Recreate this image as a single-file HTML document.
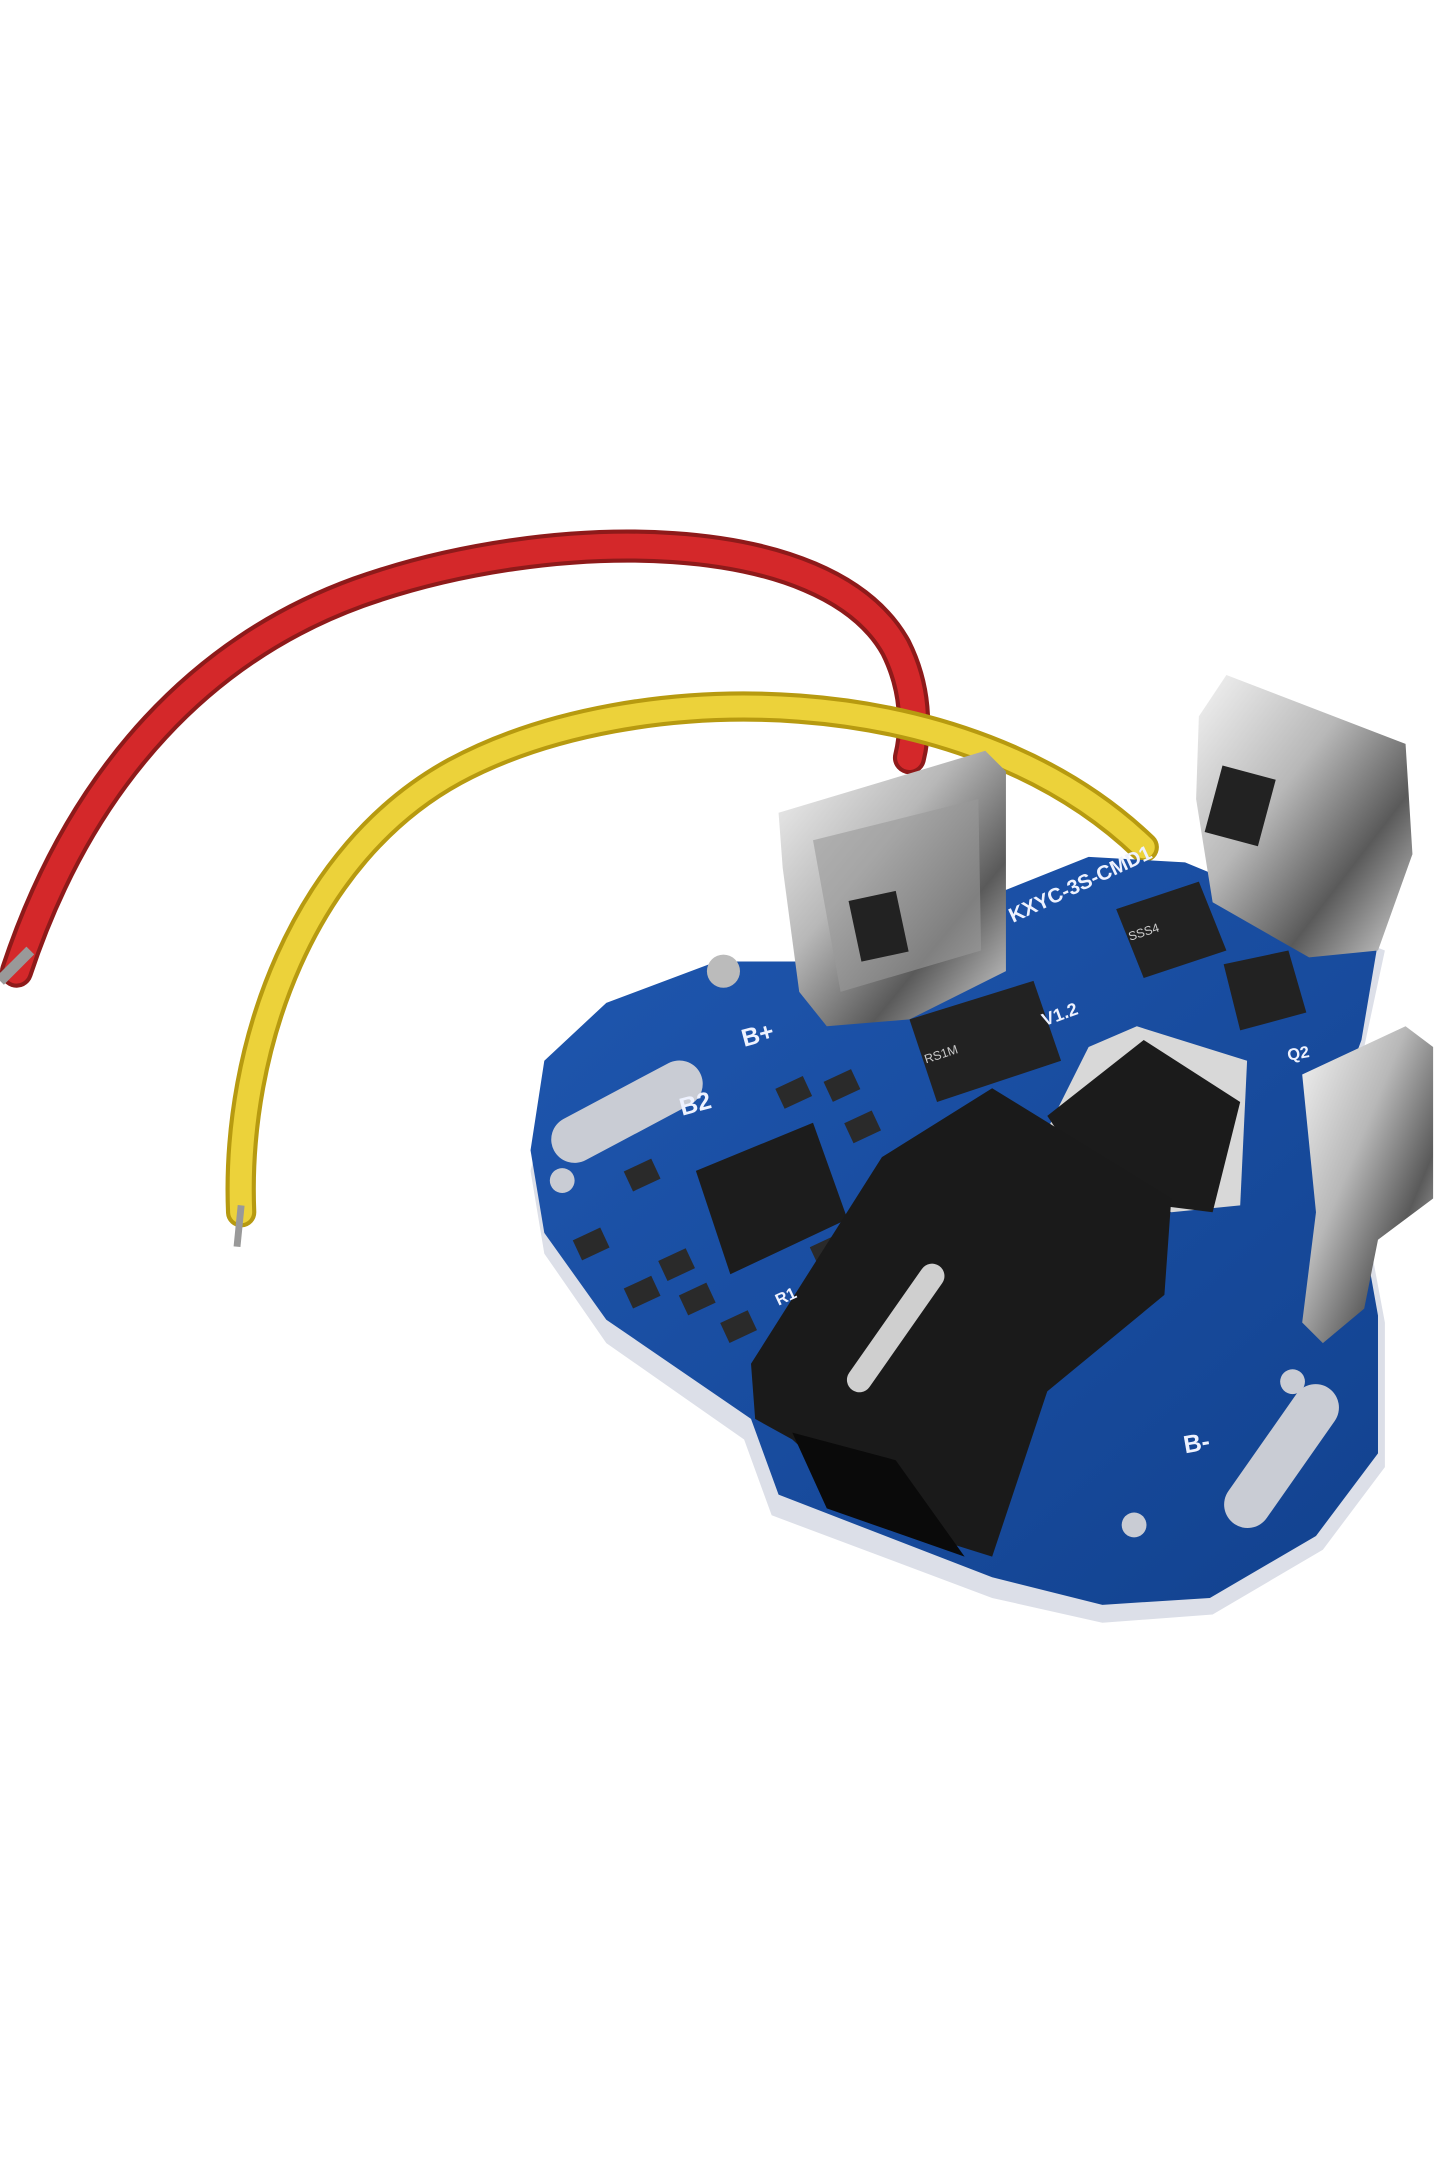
<!DOCTYPE html>
<html><head><meta charset="utf-8"><style>
html,body{margin:0;padding:0;background:#fff;}
svg{display:block;}
text{font-family:"Liberation Sans",sans-serif;}
</style></head><body>
<svg width="1440" height="2160" viewBox="0 0 1045 1568" preserveAspectRatio="none" xmlns="http://www.w3.org/2000/svg">
<defs>
<linearGradient id="metal" x1="0" y1="0" x2="1" y2="1">
<stop offset="0" stop-color="#f4f4f4"/><stop offset="0.4" stop-color="#b8b8b8"/><stop offset="0.7" stop-color="#5a5a5a"/><stop offset="1" stop-color="#d8d8d8"/>
</linearGradient>
<linearGradient id="board" x1="0" y1="0" x2="1" y2="1">
<stop offset="0" stop-color="#1f57b0"/><stop offset="1" stop-color="#12428f"/>
</linearGradient>
</defs>
<rect width="1045" height="1568" fill="#fff"/>
<!-- red wire -->
<path d="M12,705 C60,560 150,470 260,430 C400,380 600,380 650,470 C665,500 665,530 660,550" fill="none" stroke="#8e1a1a" stroke-width="24" stroke-linecap="round"/>
<path d="M12,705 C60,560 150,470 260,430 C400,380 600,380 650,470 C665,500 665,530 660,550" fill="none" stroke="#d4282a" stroke-width="18" stroke-linecap="round"/>
<path d="M0,712 L22,690" stroke="#999" stroke-width="8"/>
<!-- yellow wire -->
<path d="M175,880 C170,760 220,620 330,560 C460,490 700,490 830,615" fill="none" stroke="#b79a10" stroke-width="22" stroke-linecap="round"/>
<path d="M175,880 C170,760 220,620 330,560 C460,490 700,490 830,615" fill="none" stroke="#ecd23a" stroke-width="16" stroke-linecap="round"/>
<path d="M175,875 L172,905" stroke="#999" stroke-width="5"/>
<!-- board edge/shadow -->
<path d="M400,790 L440,740 L520,705 L600,705 L700,665 L790,628 L860,632 L1005,690 L990,760 L975,800 L1005,960 L1005,1065 L960,1125 L880,1172 L800,1178 L720,1160 L560,1100 L540,1045 L440,975 L395,910 L385,850 Z" fill="#dcdfe8"/>
<path d="M395,770 L440,728 L520,698 L600,698 L700,658 L790,622 L860,626 L1000,684 L988,755 L972,798 L1000,955 L1000,1055 L955,1115 L878,1160 L800,1165 L720,1145 L565,1085 L545,1030 L440,958 L395,895 L385,835 Z" fill="url(#board)"/>
<!-- slots -->
<rect x="395" y="790" width="120" height="34" rx="17" fill="#c9ccd4" transform="rotate(-28 455 807)"/>
<rect x="870" y="1040" width="120" height="34" rx="17" fill="#c9ccd4" transform="rotate(-55 930 1057)"/>
<circle cx="408" cy="857" r="9" fill="#c9ccd4"/>
<circle cx="525" cy="705" r="12" fill="#bbb"/>
<circle cx="823" cy="1107" r="9" fill="#c9ccd4"/>
<circle cx="938" cy="1003" r="9" fill="#c9ccd4"/>
<!-- small components -->
<g fill="#2a2a2a">
<rect x="565" y="785" width="22" height="16" transform="rotate(-25 576 793)"/>
<rect x="600" y="780" width="22" height="16" transform="rotate(-25 611 788)"/>
<rect x="615" y="810" width="22" height="16" transform="rotate(-25 626 818)"/>
<rect x="455" y="845" width="22" height="16" transform="rotate(-25 466 853)"/>
<rect x="418" y="895" width="22" height="16" transform="rotate(-25 429 903)"/>
<rect x="455" y="930" width="22" height="16" transform="rotate(-25 466 938)"/>
<rect x="495" y="935" width="22" height="16" transform="rotate(-25 506 943)"/>
<rect x="525" y="955" width="22" height="16" transform="rotate(-25 536 963)"/>
<rect x="590" y="900" width="22" height="16" transform="rotate(-25 601 908)"/>
<rect x="480" y="910" width="22" height="16" transform="rotate(-25 491 918)"/>
</g>
<!-- IC -->
<path d="M505,850 L590,815 L615,885 L530,925 Z" fill="#1c1c1c"/>
<!-- diode -->
<path d="M660,740 L750,712 L770,770 L680,800 Z" fill="#222"/>
<!-- small transistor top -->
<path d="M810,660 L870,640 L890,690 L830,710 Z" fill="#222"/>
<path d="M888,700 L935,690 L948,735 L900,748 Z" fill="#222"/>
<!-- mosfet -->
<path d="M825,745 L905,770 L900,875 L850,880 L810,860 L760,820 L790,760 Z" fill="#d8d8d8"/>
<path d="M760,810 L830,755 L900,800 L880,880 L800,870 Z" fill="#1b1b1b"/>
<!-- black connector -->
<path d="M545,990 L640,840 L720,790 L850,870 L845,940 L760,1010 L720,1130 L640,1105 L575,1045 L548,1030 Z" fill="#1a1a1a"/>
<path d="M575,1040 L650,1060 L700,1130 L600,1095 Z" fill="#0a0a0a"/>
<rect x="595" y="955" width="110" height="18" rx="9" fill="#cfcfcf" transform="rotate(-55 650 964)"/>
<!-- metal clips -->
<path d="M565,590 L715,545 L730,560 L730,705 L660,740 L600,745 L580,720 L568,630 Z" fill="url(#metal)"/>
<path d="M590,610 L710,580 L712,690 L610,720 Z" fill="#9a9a9a" opacity="0.6"/>
<rect x="620" y="650" width="35" height="45" fill="#222" transform="rotate(-12 637 672)"/>
<path d="M870,520 L890,490 L1020,540 L1025,620 L1000,690 L950,695 L880,655 L868,580 Z" fill="url(#metal)"/>
<rect x="880" y="560" width="40" height="50" fill="#222" transform="rotate(15 900 585)"/>
<path d="M945,780 L1020,745 L1040,760 L1040,870 L1000,900 L990,950 L960,975 L945,960 L955,880 Z" fill="url(#metal)"/>
<!-- labels -->
<g fill="#eef2ff" font-weight="bold">
<text x="540" y="760" font-size="18" transform="rotate(-15 540 760)">B+</text>
<text x="495" y="810" font-size="18" transform="rotate(-15 495 810)">B2</text>
<text x="860" y="1055" font-size="18" transform="rotate(-10 860 1055)">B-</text>
<text x="735" y="670" font-size="15" transform="rotate(-25 735 670)">KXYC-3S-CMD1</text>
<text x="758" y="745" font-size="13" transform="rotate(-20 758 745)">V1.2</text>
<text x="935" y="770" font-size="12" transform="rotate(-10 935 770)">Q2</text>
<text x="565" y="948" font-size="12" transform="rotate(-25 565 948)">R1</text>
</g>
<g fill="#ccc" font-size="9">
<text x="672" y="772" transform="rotate(-18 672 772)">RS1M</text>
<text x="820" y="683" transform="rotate(-18 820 683)">SSS4</text>
</g>
</svg>
</body></html>
